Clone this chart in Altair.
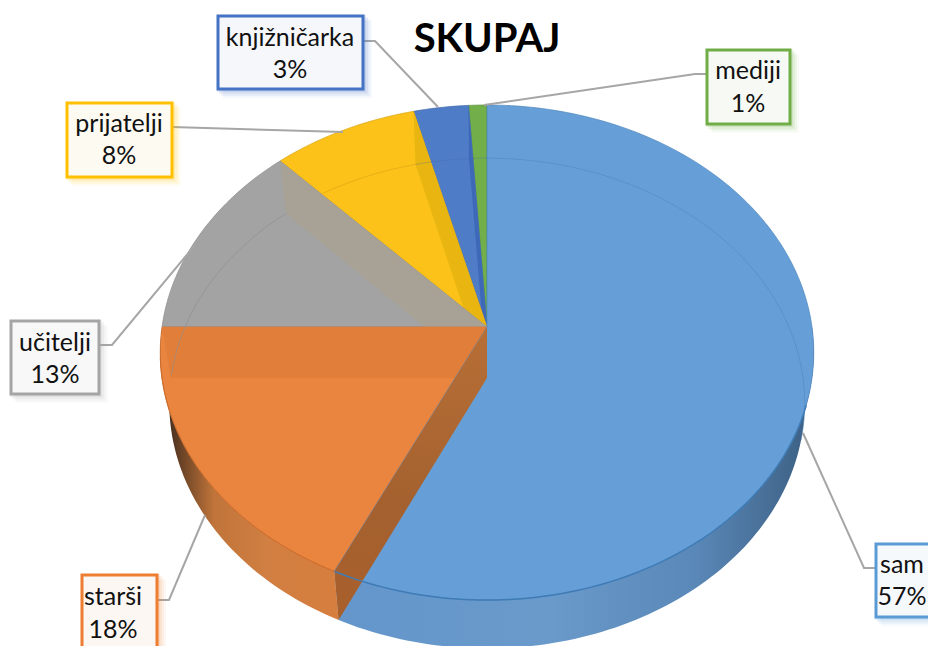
import math
import altair as alt
import pandas as pd

# --- data ---
categories = ["sam", "starši", "učitelji", "prijatelji", "knjižničarka", "mediji"]
shares = [57, 18, 13, 8, 3, 1]
title_text = "SKUPAJ"
face_colors = ["#669fd7", "#ea8540", "#a6a6a6", "#fcc219", "#4f7cc6", "#72ae4a"]
box_colors = ["#5b9bd5", "#ed7d31", "#a5a5a5", "#ffc000", "#4472c4", "#70ad47"]
box_fills = ["#f6f9fc", "#fdf7f3", "#f8f8f8", "#fdfaf1", "#f5f7fb", "#f7faf4"]

# label boxes (left, right, top, bottom), text centre, line baselines
box_left = [876, 82, 11, 67, 218, 707]
box_right = [945, 157, 99, 172, 363, 790]
box_top = [544, 575, 321, 103, 16, 50]
box_bottom = [617, 655, 394, 177, 89, 124]
text_x = [902, 113, 55, 119, 290, 748]
name_y = [565, 597, 343, 124, 38, 71]
pct_y = [597, 630, 375, 156, 70, 104]
# leader lines
leader_x = [[876, 864, 803], [157, 169, 205], [99, 112, 195], [172, 343], [363, 375, 438], [707, 695, 484]]
leader_y = [[568, 568, 433], [600, 600, 515], [345, 345, 245], [127, 132], [41, 41, 107], [74, 74, 105]]

# pie projection: centre, half axes and perspective of the top and the bottom rim
CX, TOP_Y, BOT_Y = 487, 327, 378
TOP_B, BOT_B, TOP_A, BOT_A, PERSP = 325, 316, 244.9, 242.5, 0.1031

W, H = 920, 638
XS = alt.Scale(domain=[8, 928], range=[0, W], nice=False, zero=False)
YS = alt.Scale(domain=[8, 646], range=[0, H], nice=False, zero=False)
X = alt.X("x:Q", scale=XS, axis=None)
Y = alt.Y("y:Q", scale=YS, axis=None)


def rim(pct, bottom=False):
    t = 2 * math.pi * pct / 100
    u, v = math.sin(t), math.cos(t)
    d = 1 + PERSP * v
    if bottom:
        return CX + BOT_B * u / d, BOT_Y - BOT_A * v / d
    return CX + TOP_B * u / d, TOP_Y - TOP_A * v / d


def arc(a, b, bottom=False):
    n = max(2, int(abs(b - a) * 3))
    return [rim(a + (b - a) * i / n, bottom) for i in range(n + 1)]


def poly(points, fill, stroke=None, sw=0.7, opacity=1):
    df = pd.DataFrame(points, columns=["x", "y"])
    df["i"] = range(len(df))
    kw = dict(interpolate="linear-closed", fill=fill, clip=True, opacity=opacity)
    kw.update(stroke=stroke or "transparent", strokeWidth=sw if stroke else 0)
    return alt.Chart(df).mark_line(**kw).encode(x=X, y=Y, order="i:Q")


def path(points, color, sw=1, opacity=1):
    df = pd.DataFrame(points, columns=["x", "y"])
    df["i"] = range(len(df))
    return alt.Chart(df).mark_line(color=color, strokeWidth=sw, opacity=opacity, clip=True).encode(x=X, y=Y, order="i:Q")


def hgrad(stops):
    return alt.LinearGradient(gradient="linear", x1=0, x2=1, y1=0, y2=0,
                              stops=[alt.GradientStop(offset=o, color=c) for o, c in stops])


def vgrad(stops):
    return alt.LinearGradient(gradient="linear", x1=0, x2=0, y1=0, y2=1,
                              stops=[alt.GradientStop(offset=o, color=c) for o, c in stops])


# cumulative boundaries, clockwise from the top
bound = [0]
for s in shares:
    bound.append(bound[-1] + s)
S1, S2, S3, S4, S5, S6 = bound[1:]
apex = (CX, TOP_Y)
apex_b = (CX, BOT_Y)

layers = []

# outer side walls
layers.append(poly(arc(25, S1) + arc(S1, 25, True),
                   hgrad([(0, "#6496cc"), (0.45, "#6a9aca"), (0.75, "#5a88b8"), (1, "#3c5f82")])))
layers.append(poly(arc(S1, S2) + arc(S2, S1, True),
                   hgrad([(0, "#2e2118"), (0.12, "#6b4326"), (0.3, "#c0743a"), (0.6, "#d17f42"), (1, "#d67e3e")])))


# top faces and inner walls, back to front
def wedge(a, b):
    return [apex] + arc(a, b)


def wall(p):
    return [apex, rim(p), rim(p, True), apex_b]


layers.append(poly(wedge(S5, S6), face_colors[5], "#5f9440"))
layers.append(poly(wedge(S4, S5), face_colors[4], "#4169ad"))
layers.append(poly(wall(S5), "#3d69b8"))
layers.append(poly(wedge(S3, S4), face_colors[3], "#d9a514"))
layers.append(poly(wall(S4), "#e8b511"))
layers.append(poly(wedge(S2, S3), "#a3a3a3", "#8d8d8d"))
layers.append(poly(wall(S3), "#a8a296"))
layers.append(poly(wedge(S1, S2), face_colors[1], "#d06f2c"))
layers.append(poly(wall(S2), "#e07e3a"))
layers.append(poly(wedge(0, S1), face_colors[0], "#4f86bd"))
layers.append(poly(wall(S1), vgrad([(0, "#b86f36"), (0.6, "#a4612f"), (1, "#a85f2c")])))

# far rim seen through the top
layers.append(path(arc(0, 25, True) + arc(25, 29, True), "#4f86bd", 0.8, 0.7))
layers.append(path(arc(S3, S2 + 0.2, True), "#8d8d8d", 0.8, 0.8))
layers.append(path(arc(S4, S3 + 2.5, True), "#d9a514", 0.8, 0.8))
layers.append(path(arc(S6, S4, True), "#3f68a8", 0.6, 0.5))
# near rim of the big slice over the cut wall
layers.append(path(arc(30, S1), "#3f7cb6", 1.5))
layers.append(path(arc(S1, S2 - 2), "#cc6c2a", 1))

# leader lines
for lx, ly in zip(leader_x, leader_y):
    layers.append(path(list(zip(lx, ly)), "#a6a6a6", 2))

# label boxes with soft shadows
boxes = pd.DataFrame({"name": categories, "pct": [f"{s}%" for s in shares],
                      "l": box_left, "r": box_right, "t": box_top, "b": box_bottom,
                      "c": box_colors, "f": box_fills, "tx": text_x, "ny": name_y, "py": pct_y})
for off, op in [(9, 0.05), (7, 0.07), (5, 0.1), (3, 0.14)]:
    sh = boxes.assign(l=boxes.l + off - 4, r=boxes.r + off, t=boxes.t + off - 4, b=boxes.b + off)
    layers.append(alt.Chart(sh).mark_rect(opacity=op, clip=True).encode(
        x=alt.X("l:Q", scale=XS, axis=None), x2="r:Q",
        y=alt.Y("t:Q", scale=YS, axis=None), y2="b:Q",
        color=alt.Color("c:N", scale=None)))
layers.append(alt.Chart(boxes).mark_rect(strokeWidth=3, clip=True).encode(
    x=alt.X("l:Q", scale=XS, axis=None), x2="r:Q",
    y=alt.Y("t:Q", scale=YS, axis=None), y2="b:Q",
    fill=alt.Fill("f:N", scale=None), stroke=alt.Stroke("c:N", scale=None)))

for field, yfield in [("name", "ny"), ("pct", "py")]:
    layers.append(alt.Chart(boxes).mark_text(font="Lato", fontSize=25, color="#111111", baseline="middle", clip=True).encode(
        x=alt.X("tx:Q", scale=XS, axis=None), y=alt.Y(f"{yfield}:Q", scale=YS, axis=None),
        text=f"{field}:N"))

# title
layers.append(alt.Chart(pd.DataFrame({"x": [487], "y": [40], "t": [title_text]})).mark_text(
    font="Lato", fontSize=40, fontWeight="bold", color="#000000", baseline="middle").encode(
    x=X, y=Y, text="t:N"))

chart = alt.layer(*layers).properties(width=W, height=H, padding=0, background="white").configure_view(stroke=None)
chart.save("out.html", embed_options={"renderer": "svg", "actions": False})
